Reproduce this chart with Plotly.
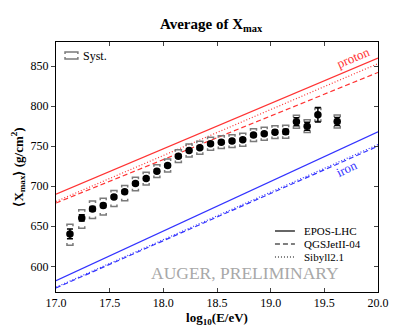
import plotly.graph_objects as go

# measured <Xmax> per energy bin
log_e = [17.13, 17.24, 17.34, 17.44, 17.54, 17.64, 17.74, 17.84, 17.94, 18.04,
         18.14, 18.24, 18.34, 18.44, 18.54, 18.64, 18.74, 18.84, 18.94, 19.04,
         19.14, 19.24, 19.34, 19.44, 19.62]
xmax = [640.5, 660.5, 671.7, 676.0, 686.7, 693.0, 703.3, 709.6, 718.8, 725.9,
        737.5, 744.6, 748.0, 753.0, 755.0, 756.3, 758.0, 763.8, 765.5, 767.5,
        768.0, 780.5, 775.0, 789.2, 780.8]
stat_err = [6, 4, 3, 2.5, 2, 2, 2, 2, 2, 2,
            2, 2, 2, 2, 2, 2, 2, 2, 2, 2.5,
            3, 5, 5, 9, 5]
syst_up = [12, 10, 10, 9, 8, 8, 8, 8, 8, 8,
           8, 8, 8, 8, 8, 8, 8, 8, 8, 8,
           8, 8, 8, 8, 8]
syst_lo = [14, 13, 12, 12, 12, 11, 9, 8, 8, 8,
           8, 8, 8, 8, 8, 8, 8, 8, 8, 8,
           8, 8, 8, 8, 8]

# model predictions (straight lines), endpoints at log10(E/eV) = 17 and 20
model_x = [17.0, 20.0]
proton = {"EPOS-LHC": [690, 860], "QGSJetII-04": [679, 842], "Sibyll2.1": [681, 853]}
iron = {"EPOS-LHC": [582, 768], "QGSJetII-04": [573, 750], "Sibyll2.1": [574, 752]}
dashes = {"EPOS-LHC": "solid", "QGSJetII-04": "5px,3px", "Sibyll2.1": "1px,2px"}

SERIF = "Liberation Serif"
RED = "#ff3333"
BLUE = "#3333ff"

fig = go.Figure()

for name, ys in proton.items():
    fig.add_trace(go.Scatter(x=model_x, y=ys, mode="lines", showlegend=False,
                             line=dict(color=RED, width=1.2, dash=dashes[name])))
for name, ys in iron.items():
    fig.add_trace(go.Scatter(x=model_x, y=ys, mode="lines", showlegend=False,
                             line=dict(color=BLUE, width=1.2, dash=dashes[name])))

# systematic brackets
hw, tk = 0.028, 2.5
bx, by = [], []
for x, y, up, lo in zip(log_e, xmax, syst_up, syst_lo):
    top = y + up
    bot = y - lo
    bx += [x - hw, x - hw, x + hw, x + hw, None, x - hw, x - hw, x + hw, x + hw, None]
    by += [top - tk, top, top, top - tk, None, bot + tk, bot, bot, bot + tk, None]
fig.add_trace(go.Scatter(x=bx, y=by, mode="lines", showlegend=False,
                         line=dict(color="#7a7a7a", width=1.5)))

fig.add_trace(go.Scatter(
    x=log_e, y=xmax, mode="markers", showlegend=False,
    marker=dict(color="black", size=7.5),
    error_y=dict(type="data", array=stat_err, color="black", thickness=1.5, width=3),
))

# Syst. legend icon
fig.add_shape(type="path", xref="paper", yref="paper",
              path="M 0.028 0.952 L 0.028 0.96 L 0.068 0.96 L 0.068 0.952 "
                   "M 0.028 0.94 L 0.028 0.932 L 0.068 0.932 L 0.068 0.94",
              line=dict(color="#7a7a7a", width=1.5))
fig.add_annotation(x=0.078, y=0.946, xref="paper", yref="paper", text="Syst.",
                   showarrow=False, xanchor="left", yanchor="middle",
                   font=dict(family=SERIF, size=12, color="black"))

# model legend (line style key)
for i, name in enumerate(dashes):
    ly = 0.244 - i * 0.052
    fig.add_shape(type="line", xref="paper", yref="paper", x0=0.68, x1=0.742,
                  y0=ly, y1=ly, line=dict(color="black", width=1.2, dash=dashes[name]))
    fig.add_annotation(x=0.765, y=ly, xref="paper", yref="paper", text=name,
                       showarrow=False, xanchor="left", yanchor="middle",
                       font=dict(family=SERIF, size=11, color="black"))

fig.add_annotation(x=19.77, y=861, text="proton", showarrow=False, textangle=-23,
                   font=dict(family=SERIF, size=13, color=RED))
fig.add_annotation(x=19.71, y=722, text="iron", showarrow=False, textangle=-25,
                   font=dict(family=SERIF, size=13, color=BLUE))
fig.add_annotation(x=18.76, y=592, text="AUGER, PRELIMINARY", showarrow=False,
                   font=dict(family=SERIF, size=17.5, color="#a8a8a8"))

fig.update_layout(
    width=414, height=333,
    margin=dict(l=56, r=36, t=42, b=41),
    paper_bgcolor="white", plot_bgcolor="white",
    showlegend=False,
    font=dict(family=SERIF, size=12, color="black"),
    title=dict(text="<b>Average of X<sub>max</sub></b>", x=0.51, xanchor="center",
               y=0.93, yanchor="middle", font=dict(family=SERIF, size=15),
               automargin=False),
    xaxis=dict(range=[17.0, 20.0], dtick=0.5, tickformat=".1f", ticks="inside",
               ticklen=4, showline=True, linecolor="black", linewidth=1,
               mirror="ticks", showgrid=False, zeroline=False, automargin=False,
               title=dict(text="<b>log<sub>10</sub>(E/eV)</b>", standoff=2,
                          font=dict(size=13))),
    yaxis=dict(range=[568, 880], dtick=50, ticks="outside", ticklen=4,
               showline=True, linecolor="black", linewidth=1, mirror=True,
               showgrid=False, zeroline=False, automargin=False,
               title=dict(text="<b>⟨X<sub>max</sub>⟩ (g/cm<sup>2</sup>)</b>",
                          standoff=4, font=dict(size=13))),
    yaxis2=dict(range=[568, 880], dtick=50, overlaying="y", side="right",
                ticks="inside", ticklen=4, showticklabels=False, showgrid=False,
                zeroline=False, showline=False, automargin=False),
)
# dummy trace so the right-hand tick axis is drawn
fig.add_trace(go.Scatter(x=[None], y=[None], yaxis="y2", showlegend=False))

fig.write_html("out.html", config={"displayModeBar": False},
               post_script="document.body.style.margin = '0';")
